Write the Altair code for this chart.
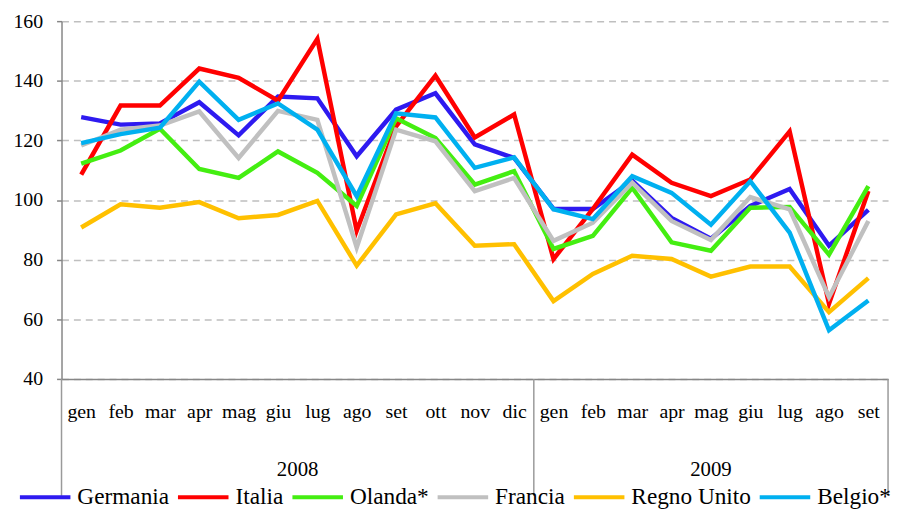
import altair as alt
import pandas as pd

months = ["gen", "feb", "mar", "apr", "mag", "giu", "lug", "ago", "set", "ott", "nov", "dic",
          "gen", "feb", "mar", "apr", "mag", "giu", "lug", "ago", "set"]
years = ["2008"] * 12 + ["2009"] * 9

series_names = ["Germania", "Italia", "Olanda*", "Francia", "Regno Unito", "Belgio*"]
series_colors = ["#2E1AF0", "#FF0000", "#44EE11", "#C0C0C0", "#FFC000", "#00B0F0"]

germania = [127.8, 125.3, 125.7, 132.8, 121.7, 134.7, 134.1, 114.7, 130.3, 135.8, 118.7, 114.1,
            97.0, 97.0, 106.5, 94.0, 87.0, 98.0, 103.7, 84.7, 96.7]
italia = [108.5, 131.7, 131.7, 144.1, 141.0, 133.3, 154.1, 89.7, 124.7, 141.7, 121.0, 128.7,
          80.2, 97.0, 115.2, 105.8, 101.3, 106.9, 123.0, 65.2, 103.0]
olanda = [112.2, 116.6, 123.9, 110.4, 107.4, 116.3, 109.1, 98.0, 127.4, 120.8, 105.2, 109.7,
          83.6, 88.0, 104.1, 85.8, 83.0, 97.4, 97.7, 81.7, 104.7]
francia = [118.3, 123.6, 125.0, 129.7, 114.1, 129.9, 126.9, 84.1, 123.6, 119.7, 103.0, 107.4,
           86.3, 92.4, 105.8, 93.0, 86.6, 101.0, 96.9, 67.4, 93.0]
regno_unito = [90.8, 98.6, 97.4, 99.3, 93.9, 95.0, 99.7, 78.0, 95.2, 98.9, 84.7, 85.2,
               66.1, 75.2, 81.3, 80.2, 74.3, 77.7, 77.7, 62.4, 73.8]
belgio = [119.1, 122.1, 124.3, 139.7, 126.9, 132.4, 123.6, 101.3, 129.1, 127.7, 110.8, 114.3,
          96.9, 93.6, 108.0, 102.4, 91.7, 106.3, 89.1, 56.3, 66.3]

year_labels = ["2008", "2009"]
year_centers = [5.5, 16.0]
separators = [-0.5, 11.5, 20.5]

all_series = [germania, italia, olanda, francia, regno_unito, belgio]
rows = []
for name, vals in zip(series_names, all_series):
    for i, v in enumerate(vals):
        rows.append({"idx": i, "mese": months[i], "anno": years[i], "serie": name, "valore": v})
df = pd.DataFrame(rows)

FONT = "'Liberation Serif', 'Times New Roman', serif"
W, H = 834, 361

label_expr = "[" + ",".join("'" + m + "'" for m in months) + "][datum.value]"

x_enc = alt.X("idx:Q",
              scale=alt.Scale(domain=[-0.5, 20.5], nice=False, zero=False),
              axis=alt.Axis(values=list(range(21)), labelExpr=label_expr, title=None,
                            ticks=False, grid=False, domainColor="#868686", domainWidth=1.5,
                            labelFont=FONT, labelFontSize=20, labelColor="#000000",
                            labelPadding=23, labelAngle=0))
y_enc = alt.Y("valore:Q",
              scale=alt.Scale(domain=[40, 160], nice=False, zero=False),
              axis=alt.Axis(values=[40, 60, 80, 100, 120, 140, 160], title=None,
                            grid=True, gridDash=[7, 5], gridColor="#BFBFBF", gridWidth=1.5,
                            domainColor="#868686", domainWidth=1.5, tickColor="#868686",
                            tickSize=5, tickWidth=1.5, labelFont=FONT, labelFontSize=20,
                            labelColor="#000000", labelPadding=14))

color_enc = alt.Color("serie:N",
                      scale=alt.Scale(domain=series_names, range=series_colors),
                      legend=alt.Legend(title=None, orient="none", direction="horizontal",
                                        legendX=-44, legendY=453,
                                        symbolType="stroke", symbolSize=2601,
                                        symbolStrokeWidth=4, labelFont=FONT,
                                        labelFontSize=23.5, labelColor="#000000",
                                        labelAlign="left", labelOffset=5, columnPadding=0.5,
                                        gridAlign="none", columns=6, labelLimit=300))

base = alt.Chart(df)
layers = []
for name in series_names:
    layers.append(
        base.transform_filter(alt.datum.serie == name)
        .mark_line(strokeWidth=4.5)
        .encode(x=x_enc, y=y_enc, color=color_enc)
    )

sep_df = pd.DataFrame({"idx": separators})
sep = alt.Chart(sep_df).mark_rule(color="#9A9A9A", strokeWidth=1.5).encode(
    x=alt.X("idx:Q"), y=alt.value(H), y2=alt.value(H + 118))

yr_df = pd.DataFrame({"idx": year_centers, "anno": year_labels})
yr = alt.Chart(yr_df).mark_text(font=FONT, fontSize=21, color="#000000", baseline="middle").encode(
    x=alt.X("idx:Q"), y=alt.value(H + 92), text="anno:N")

chart = alt.layer(*layers, sep, yr).properties(
    width=W, height=H,
    autosize=alt.AutoSizeParams(type="none"),
    padding={"left": 54, "top": 11, "right": 5, "bottom": 130},
).configure_view(stroke=None)

chart.save("out.html", embed_options={"renderer": "svg", "actions": False})
